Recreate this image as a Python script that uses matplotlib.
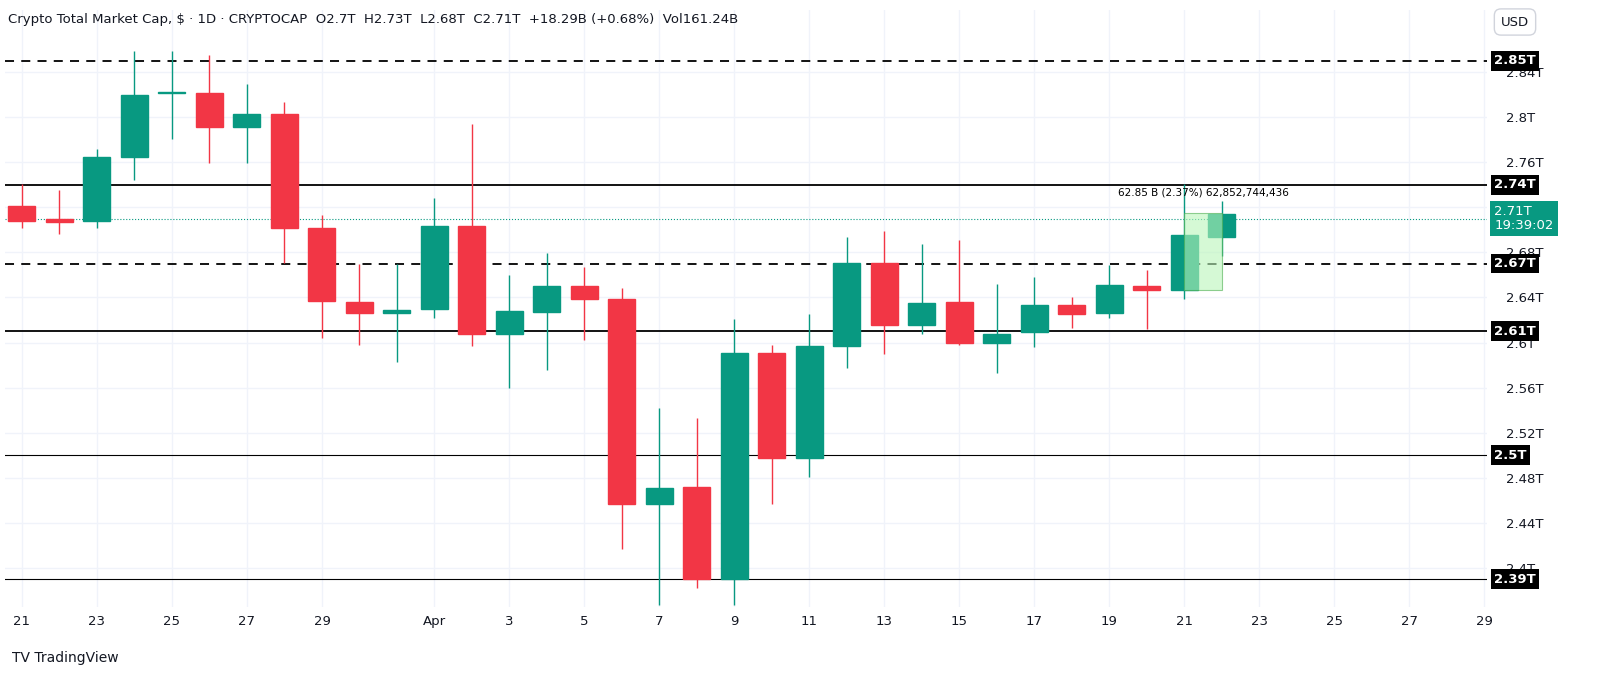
import matplotlib
matplotlib.use("Agg")
import matplotlib.pyplot as plt
from matplotlib.patches import Rectangle, FancyBboxPatch
import numpy as np

dates = ["Mar 21","Mar 22","Mar 23","Mar 24","Mar 25","Mar 26","Mar 27","Mar 28","Mar 29","Mar 30","Mar 31",
         "Apr 1","Apr 2","Apr 3","Apr 4","Apr 5","Apr 6","Apr 7","Apr 8","Apr 9","Apr 10","Apr 11","Apr 12",
         "Apr 13","Apr 14","Apr 15","Apr 16","Apr 17","Apr 18","Apr 19","Apr 20","Apr 21","Apr 22"]
opens  = [2.721,2.710,2.708,2.765,2.821,2.821,2.791,2.803,2.702,2.636,2.626,2.630,2.703,2.608,2.627,2.650,2.639,2.457,2.472,2.390,2.591,2.498,2.597,2.671,2.616,2.636,2.600,2.609,2.633,2.626,2.650,2.647,2.694]
highs  = [2.741,2.735,2.772,2.859,2.859,2.855,2.829,2.813,2.713,2.670,2.670,2.728,2.794,2.660,2.679,2.667,2.648,2.542,2.533,2.621,2.598,2.625,2.694,2.699,2.687,2.691,2.652,2.658,2.640,2.669,2.664,2.741,2.726]
lows   = [2.702,2.696,2.702,2.744,2.781,2.759,2.759,2.671,2.604,2.598,2.583,2.622,2.597,2.560,2.576,2.602,2.417,2.367,2.382,2.367,2.457,2.481,2.577,2.590,2.608,2.598,2.573,2.596,2.613,2.622,2.612,2.639,2.677]
closes = [2.708,2.707,2.765,2.820,2.822,2.791,2.803,2.702,2.637,2.626,2.629,2.703,2.608,2.628,2.650,2.639,2.457,2.471,2.390,2.591,2.498,2.597,2.671,2.616,2.635,2.600,2.608,2.633,2.625,2.651,2.647,2.695,2.714]
xtick_days = list(range(0, 40, 2))
xtick_labels = ["21","23","25","27","29","Apr","3","5","7","9","11","13","15","17","19","21","23","25","27","29"]
xtick_pos = [0,2,4,6,8,11,13,15,17,19,21,23,25,27,29,31,33,35,37,39]
yticks = [2.4,2.44,2.48,2.52,2.56,2.6,2.64,2.68,2.72,2.76,2.8,2.84]
levels = [(2.85,"--",1.3),(2.74,"-",1.3),(2.67,"--",1.3),(2.61,"-",1.3),(2.50,"-",0.8),(2.39,"-",0.8)]
last_price = 2.71

W, H = 1617, 693
fig = plt.figure(figsize=(W/100, H/100), dpi=100)
ax = fig.add_axes([5/W, 1-607/H, (1487-5)/W, (607-10)/H])
up, dn = "#089981", "#f23645"
x = np.arange(len(opens))
for i in x:
    c = up if closes[i] >= opens[i] else dn
    ax.vlines(i, lows[i], highs[i], color=c, lw=1, zorder=3)
    lo, hi = min(opens[i], closes[i]), max(opens[i], closes[i])
    ax.add_patch(Rectangle((i-0.36, lo), 0.72, max(hi-lo, 0.0015), color=c, zorder=4))
ax.set_xlim(-0.453, 39.07)
ax.set_ylim(2.3654, 2.895)
for y in yticks:
    ax.axhline(y, color="#f0f3fa", lw=1, zorder=0)
for xp in xtick_pos:
    ax.axvline(xp, color="#f0f3fa", lw=1, zorder=0)
for v, ls, lw in levels:
    ax.axhline(v, color="black", ls=ls, lw=lw, zorder=2, dashes=(5,4) if ls=="--" else ())
ax.axhline(last_price, color=up, ls=":", lw=0.8, zorder=2)
# measurement
ax.add_patch(Rectangle((31, 2.647), 1, 2.7145-2.647, facecolor="#b9f6b9", alpha=0.6, edgecolor="#4caf50", lw=0.8, zorder=5))
ax.text(31.5, 2.733, "62.85 B (2.37%) 62,852,744,436", fontsize=7.5, ha="center", va="center", zorder=6)
for s in ax.spines.values():
    s.set_visible(False)
ax.set_xticks(xtick_pos)
ax.set_xticklabels(xtick_labels, fontsize=9.5, color="#131722")
ax.tick_params(axis="x", length=0, pad=6)
ax.yaxis.tick_right()
ax.set_yticks(yticks)
ax.set_yticklabels([f"{t:g}T" for t in yticks], fontsize=9.5, color="#131722")
ax.tick_params(axis="y", length=0, pad=14)
# right axis labels
for v, _, _ in levels:
    ax.text(1.005, v, f"{v:.2f}T".replace("2.50","2.5"), transform=ax.get_yaxis_transform(), fontsize=9.5,
            fontweight="bold", color="white", va="center", ha="left", zorder=10,
            bbox=dict(boxstyle="square,pad=0.25", fc="black", ec="none"), clip_on=False)
ax.text(1.005, last_price, "2.71T\n19:39:02", transform=ax.get_yaxis_transform(), fontsize=9.5,
        color="white", va="center", ha="left", zorder=10, linespacing=1.1,
        bbox=dict(boxstyle="square,pad=0.3", fc=up, ec="none"), clip_on=False)
fig.text(8/W, 1-20/H, "Crypto Total Market Cap, $ · 1D · CRYPTOCAP  O2.7T  H2.73T  L2.68T  C2.71T  +18.29B (+0.68%)  Vol161.24B",
         fontsize=9.5, color="#131722", va="center")
fig.text(1515/W, 1-22/H, "USD", fontsize=9.5, color="#131722", va="center", ha="center",
         bbox=dict(boxstyle="round,pad=0.5", fc="white", ec="#d1d4dc"))
fig.text(12/W, 1-658/H, "TV TradingView", fontsize=10, color="#131722", va="center")
fig.savefig("out.png", dpi=100)
